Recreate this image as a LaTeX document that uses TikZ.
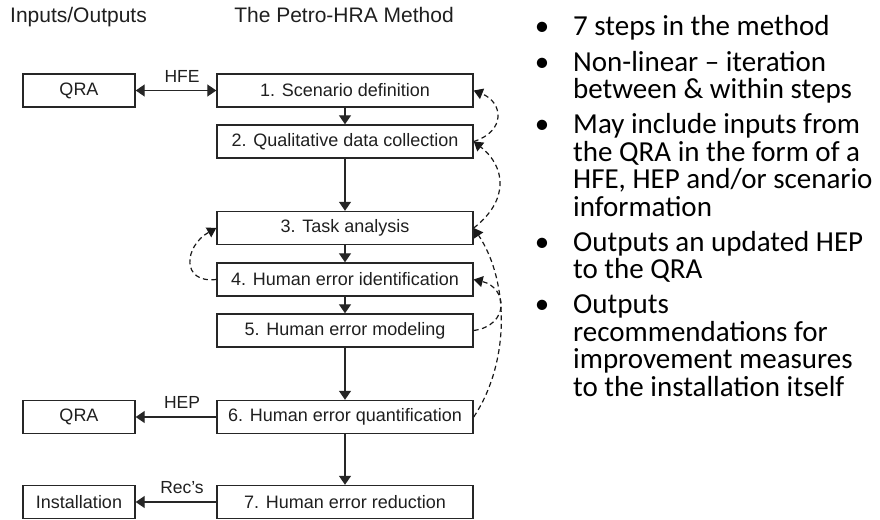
\documentclass[tikz,border=0pt]{standalone}
\usepackage{fontspec}
\setmainfont{Liberation Sans}
\newfontfamily\calibri{Carlito}
\usetikzlibrary{arrows.meta}
\begin{document}
\begin{tikzpicture}[x=1pt,y=-1pt,
  box/.style={draw=black!85, line width=1.4pt, minimum height=33pt, inner sep=0pt,
    font=\fontsize{18}{21}\selectfont, text=black!88},
  stepbox/.style={box, minimum width=256pt},
  iobox/.style={box, minimum width=112pt},
  head/.style={font=\fontsize{21}{25}\selectfont, text=black!88, inner sep=0pt, anchor=base},
  lbl/.style={font=\fontsize{17.5}{20}\selectfont, text=black!88, inner sep=0pt},
  flow/.style={line width=1.3pt, draw=black!85, -{Triangle[length=9pt,width=12pt]}},
  loopline/.style={line width=1.2pt, draw=black!90, dash pattern=on 5pt off 3.5pt,
    -{Triangle[length=9pt,width=11pt]}},
  btxt/.style={font=\calibri\fontsize{29}{27}\selectfont, inner sep=0pt, anchor=base west},
  bul/.style={font=\calibri\fontsize{29}{27}\selectfont, inner sep=0pt, anchor=base}
]
\useasboundingbox (0,0) rectangle (880,519);

% headers
\node[head, anchor=base west] (hio) at (10,23) {Inputs/Outputs};
\node[head] (hpm) at (344,23) {The Petro-HRA Method};

% step boxes
\node[stepbox] (b1) at (345,90.5) {1. Scenario definition};
\node[stepbox] (b2) at (345,141.5) {2. Qualitative data collection};
\node[stepbox] (b3) at (345,228) {3. Task analysis};
\node[stepbox] (b4) at (345,279.5) {4. Human error identification};
\node[stepbox] (b5) at (345,330.5) {5. Human error modeling};
\node[stepbox] (b6) at (345,417) {6. Human error quantification};
\node[stepbox] (b7) at (345,502) {7. Human error reduction};

% input/output boxes
\node[iobox] (q1) at (79,90.5) {QRA};
\node[iobox] (q2) at (79,417) {QRA};
\node[iobox] (inst) at (79,502) {Installation};

% flow arrows
\draw[flow] (b1) -- (b2);
\draw[flow] (b2) -- (b3);
\draw[flow] (b3) -- (b4);
\draw[flow] (b4) -- (b5);
\draw[flow] (b5) -- (b6);
\draw[flow] (b6) -- (b7);

\draw[flow, {Triangle[length=9pt,width=12pt]}-{Triangle[length=9pt,width=12pt]}] (q1) -- (b1);
\draw[flow] (b6) -- (q2);
\draw[flow] (b7) -- (inst);

\node[lbl] (lhfe) at (182,76.5) {HFE};
\node[lbl] (lhep) at (182,402) {HEP};
\node[lbl] (lrec) at (182,488) {Rec’s};

% iteration loops
\draw[loopline] (b2.east) .. controls +(32,-10) and +(30,12) .. (b1.east);
\draw[loopline] (b3.east) .. controls +(36,-28) and +(32,25) .. (b2.east);
\draw[loopline] (b6.east) .. controls +(36,-54) and +(36,54) .. (b3.east);
\draw[loopline] (b5.east) .. controls +(36,-5) and +(34,8) .. (b4.east);
\draw[loopline] (b4.west) .. controls +(-36,4) and +(-32,18) .. (b3.west);

% bullets
\node[bul] (d1) at (542,36) {•};
\node[btxt] (t1) at (573,36) {7 steps in the method};
\node[bul] (d2) at (542,71) {•};
\node[btxt] (t2a) at (573,71) {Non-linear – iteration};
\node[btxt] (t2b) at (573,98.5) {between \& within steps};
\node[bul] (d3) at (542,133.5) {•};
\node[btxt] (t3a) at (573,133.5) {May include inputs from};
\node[btxt] (t3b) at (573,161) {the QRA in the form of a};
\node[btxt] (t3c) at (573,188.5) {HFE, HEP and/or scenario};
\node[btxt] (t3d) at (573,216) {information};
\node[bul] (d4) at (542,251) {•};
\node[btxt] (t4a) at (573,251) {Outputs an updated HEP};
\node[btxt] (t4b) at (573,278.5) {to the QRA};
\node[bul] (d5) at (542,313.5) {•};
\node[btxt] (t5a) at (573,313.5) {Outputs};
\node[btxt] (t5b) at (573,341) {recommendations for};
\node[btxt] (t5c) at (573,368.5) {improvement measures};
\node[btxt] (t5d) at (573,396) {to the installation itself};
\end{tikzpicture}
\end{document}
